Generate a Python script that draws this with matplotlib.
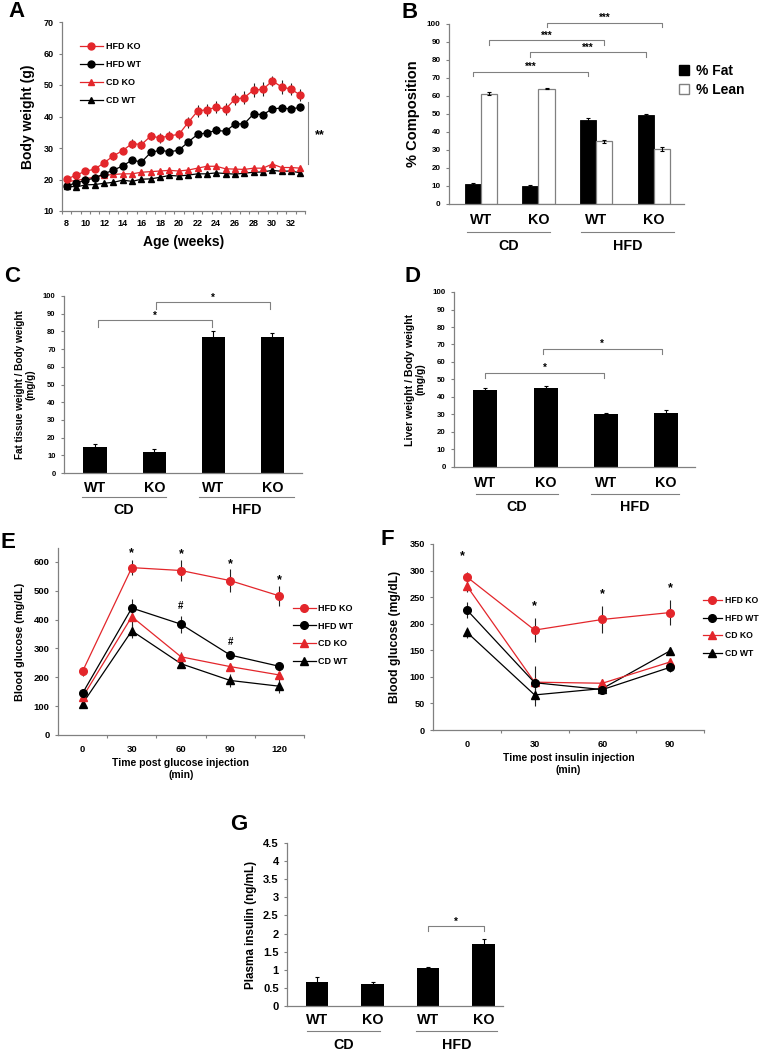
import numpy as np
import matplotlib
matplotlib.use('Agg')
import matplotlib.pyplot as plt
from matplotlib.patches import Patch
from matplotlib.lines import Line2D
from matplotlib.transforms import blended_transform_factory

plt.rcParams['font.family'] = ['Liberation Sans', 'DejaVu Sans']
plt.rcParams['font.weight'] = 'bold'
plt.rcParams['axes.labelweight'] = 'bold'

RED = '#e3262b'
GRAY = '#808080'

# ---- data ----
weeks = np.arange(8, 34)
a_hfd_ko = [20.1, 21.4, 22.6, 23.3, 25.3, 27.5, 29.2, 31.4, 31.1, 33.8, 33.2, 33.9, 34.3,
            38.1, 41.7, 42.2, 42.9, 42.4, 45.5, 46.0, 48.4, 48.6, 51.3, 49.4, 48.7, 46.8]
a_hfd_wt = [18.0, 18.9, 19.7, 20.5, 21.8, 23.0, 24.3, 26.2, 25.5, 28.6, 29.3, 28.8, 29.3,
            31.9, 34.3, 34.8, 35.6, 35.3, 37.6, 37.7, 40.8, 40.6, 42.4, 42.7, 42.4, 42.9]
a_cd_ko = [19.3, 19.7, 20.2, 20.8, 21.3, 21.6, 21.8, 21.8, 22.3, 22.5, 22.7, 22.9, 22.7,
           23.0, 23.6, 24.2, 24.2, 23.4, 23.3, 23.2, 23.6, 23.6, 24.9, 23.8, 23.8, 23.6]
a_cd_wt = [18.0, 17.6, 18.3, 18.4, 18.8, 19.1, 19.8, 19.4, 20.1, 20.2, 20.7, 21.3, 21.1,
           21.4, 21.8, 21.8, 22.1, 21.9, 21.7, 22.0, 22.3, 22.4, 22.9, 22.6, 22.7, 22.1]
a_hfd_ko_err = [0.8, 0.9, 1.0, 1.0, 1.1, 1.2, 1.2, 1.3, 1.3, 1.4, 1.5, 1.5, 1.5,
                1.6, 1.8, 1.9, 1.9, 2.0, 2.0, 2.1, 2.2, 2.2, 1.7, 2.2, 2.0, 1.9]
a_hfd_wt_err = [0.6, 0.6, 0.7, 0.7, 0.8, 0.9, 0.9, 1.0, 1.0, 1.0, 1.1, 1.1, 1.1,
                1.1, 1.2, 1.2, 1.3, 1.3, 1.2, 1.2, 1.2, 1.2, 1.1, 1.2, 1.1, 1.1]
a_cd_err = [0.6] * 26

groups = ['WT', 'KO', 'WT', 'KO']
diets = ['CD', 'HFD']

b_fat = [11.0, 10.0, 46.5, 49.2]
b_fat_err = [0.7, 0.5, 1.3, 0.9]
b_lean = [61.3, 64.0, 34.8, 30.6]
b_lean_err = [0.7, 0.3, 0.9, 1.0]

c_fat_ratio = [14.5, 12.0, 77.0, 77.0]
c_fat_ratio_err = [2.0, 1.3, 3.0, 2.0]

d_liver_ratio = [44.0, 45.0, 30.2, 30.8]
d_liver_ratio_err = [1.2, 1.5, 0.8, 1.5]

e_time = [0, 30, 60, 90, 120]
e_hfd_ko = [221, 580, 570, 535, 482]
e_hfd_ko_err = [15, 25, 35, 40, 35]
e_hfd_wt = [145, 440, 384, 277, 238]
e_hfd_wt_err = [10, 30, 30, 10, 8]
e_cd_ko = [131, 410, 271, 237, 208]
e_cd_ko_err = [8, 40, 18, 12, 10]
e_cd_wt = [109, 361, 247, 189, 169]
e_cd_wt_err = [8, 25, 10, 22, 25]

f_time = [0, 30, 60, 90]
f_hfd_ko = [288, 188, 208, 221]
f_hfd_ko_err = [10, 22, 25, 23]
f_hfd_wt = [226, 89, 76, 118]
f_hfd_wt_err = [15, 32, 8, 8]
f_cd_ko = [271, 90, 88, 128]
f_cd_ko_err = [12, 8, 8, 8]
f_cd_wt = [184, 66, 78, 149]
f_cd_wt_err = [10, 20, 5, 8]

g_insulin = [0.66, 0.60, 1.06, 1.70]
g_insulin_err = [0.13, 0.05, 0.02, 0.14]

series_names = ['HFD KO', 'HFD WT', 'CD KO', 'CD WT']

# ---- figure ----
W, H = 767, 1050
fig = plt.figure(figsize=(W / 100, H / 100), dpi=100)


def add_ax(l, t, r, b):
    ax = fig.add_axes([l / W, 1 - b / H, (r - l) / W, (b - t) / H])
    for s in ['top', 'right']:
        ax.spines[s].set_visible(False)
    for s in ['left', 'bottom']:
        ax.spines[s].set_color(GRAY)
        ax.spines[s].set_linewidth(0.9)
    ax.tick_params(color=GRAY, width=0.8, length=2.5)
    return ax


def letter(txt, x, y):
    fig.text(x / W, 1 - y / H, txt, fontsize=16, fontweight='bold', ha='left', va='baseline')


def under_labels(ax, box, lab_y, line_y, diet_y, spans, fs=10.3):
    l, t, r, b = box
    tr = blended_transform_factory(ax.transData, ax.transAxes)
    f = lambda y: (b - y) / (b - t)
    for i, s in enumerate(groups):
        ax.text(i, f(lab_y), s, transform=tr, ha='center', va='center', fontsize=fs)
    for (x0, x1), d in zip(spans, diets):
        ax.plot([x0, x1], [f(line_y)] * 2, transform=tr, color=GRAY, lw=0.8, clip_on=False)
        ax.text((x0 + x1) / 2, f(diet_y), d, transform=tr, ha='center', va='center', fontsize=fs)


def bracket(ax, x0, x1, y, drop, label, off, fs=7):
    ax.plot([x0, x0, x1, x1], [y - drop, y, y, y - drop], color=GRAY, lw=0.8, clip_on=False)
    ax.text((x0 + x1) / 2, y + off, label, ha='center', va='center', fontsize=fs, clip_on=False)


def lines(ax, x, data, ms, lw=0.9):
    # data: list of (y, err, color, marker) in legend order
    hs = []
    for (y, e, c, m), name in reversed(list(zip(data, series_names))):
        ax.errorbar(x, y, yerr=e, color=c, ecolor='#222222', elinewidth=0.8, capsize=0,
                    marker=m, ms=ms, lw=lw, zorder=3)
    for (y, e, c, m), name in zip(data, series_names):
        hs.append(Line2D([], [], color=c, marker=m, ms=ms, lw=lw, label=name))
    return hs


# ---- A ----
axA = add_ax(62, 22, 305, 211)
hA = lines(axA, weeks, [(a_hfd_ko, a_hfd_ko_err, RED, 'o'), (a_hfd_wt, a_hfd_wt_err, 'black', 'o'),
                        (a_cd_ko, a_cd_err, RED, '^'), (a_cd_wt, a_cd_err, 'black', '^')], ms=5)
axA.set_xlim(7.5, 33.5)
axA.set_ylim(10, 70)
axA.set_yticks(range(10, 71, 10))
axA.set_xticks(range(8, 33, 2))
axA.set_xticks(np.arange(7.5, 34, 1), minor=True)
axA.tick_params(axis='x', which='major', length=0, pad=6)
axA.tick_params(axis='x', which='minor', length=2.5, color=GRAY, width=0.8)
axA.tick_params(labelsize=6.5)
axA.set_ylabel('Body weight (g)', fontsize=10, labelpad=6)
axA.set_xlabel('Age (weeks)', fontsize=10, labelpad=5)
axA.plot([33.8, 33.8], [24.8, 44.7], color=GRAY, lw=0.8, clip_on=False)
axA.text(35.1, 34, '**', fontsize=9, ha='center', va='center', clip_on=False)
fig.legend(handles=hA, loc='upper left', bbox_to_anchor=(80 / W, 1 - 42 / H), frameon=False,
           fontsize=6.5, handlelength=2.5, handletextpad=0.4, labelspacing=1.0,
           borderpad=0, borderaxespad=0)
letter('A', 8, 17)

# ---- B ----
xB = np.arange(4)
boxB = (449, 24, 684, 204)
axB = add_ax(*boxB)
bw = 0.28
axB.bar(xB - bw / 2, b_fat, bw, color='black', edgecolor='black', lw=0.6,
        yerr=b_fat_err, error_kw=dict(elinewidth=0.8, capsize=1.5, capthick=0.8))
axB.bar(xB + bw / 2, b_lean, bw, color='white', edgecolor=GRAY, lw=0.9,
        yerr=b_lean_err, error_kw=dict(elinewidth=0.8, capsize=1.5, capthick=0.8))
axB.set_xlim(-0.55, 3.52)
axB.set_ylim(0, 100)
axB.set_yticks(range(0, 101, 10))
axB.set_xticks([])
axB.tick_params(labelsize=5.8)
axB.set_ylabel('% Composition', fontsize=10.5, labelpad=5)
under_labels(axB, boxB, 220, 232, 246, [(-0.24, 1.2), (1.74, 3.34)])
bracket(axB, -0.14, 1.86, 73.6, 2.6, '***', 2.6)
bracket(axB, 0.14, 2.14, 91.0, 2.6, '***', 2.6)
bracket(axB, 0.86, 2.86, 84.4, 2.6, '***', 2.6)
bracket(axB, 1.14, 3.14, 100.7, 2.6, '***', 2.6)
fig.legend(handles=[Patch(facecolor='black', edgecolor='black', label='% Fat'),
                    Patch(facecolor='white', edgecolor=GRAY, label='% Lean')],
           loc='upper left', bbox_to_anchor=(679 / W, 1 - 64 / H), frameon=False,
           fontsize=10, handlelength=0.7, handleheight=0.7, handletextpad=0.5,
           labelspacing=0.35, borderpad=0, borderaxespad=0)
letter('B', 402, 18)

# ---- C ----
boxC = (64, 296, 302, 473)
axC = add_ax(*boxC)
axC.bar(xB, c_fat_ratio, 0.4, color='black', yerr=c_fat_ratio_err,
        error_kw=dict(elinewidth=0.8, capsize=1.5, capthick=0.8))
axC.set_xlim(-0.53, 3.5)
axC.set_ylim(0, 100)
axC.set_yticks(range(0, 101, 10))
axC.set_xticks([])
axC.tick_params(labelsize=5.5)
axC.set_ylabel('Fat tissue weight / Body weight\n(mg/g)', fontsize=7.2, labelpad=5, linespacing=1.1)
under_labels(axC, boxC, 488, 497, 510, [(-0.22, 1.19), (1.76, 3.37)])
bracket(axC, 0.05, 1.98, 86.2, 3.5, '*', 2.8)
bracket(axC, 1.02, 2.95, 96.4, 3.5, '*', 2.8)
letter('C', 4, 282)

# ---- D ----
boxD = (454, 292, 695, 467)
axD = add_ax(*boxD)
axD.bar(xB, d_liver_ratio, 0.4, color='black', yerr=d_liver_ratio_err,
        error_kw=dict(elinewidth=0.8, capsize=1.5, capthick=0.8))
axD.set_xlim(-0.52, 3.48)
axD.set_ylim(0, 100)
axD.set_yticks(range(0, 101, 10))
axD.set_xticks([])
axD.tick_params(labelsize=5.7)
axD.set_ylabel('Liver weight / Body weight\n(mg/g)', fontsize=7.6, labelpad=5, linespacing=1.1)
under_labels(axD, boxD, 483, 494, 507, [(-0.15, 1.2), (1.75, 3.22)])
bracket(axD, 0.0, 1.97, 53.9, 3.0, '*', 2.8)
bracket(axD, 0.95, 2.93, 67.4, 3.0, '*', 2.8)
letter('D', 405, 282)

# ---- E ----
axE = add_ax(58, 548, 304, 735)
hE = lines(axE, e_time, [(e_hfd_ko, e_hfd_ko_err, RED, 'o'), (e_hfd_wt, e_hfd_wt_err, 'black', 'o'),
                         (e_cd_ko, e_cd_ko_err, RED, '^'), (e_cd_wt, e_cd_wt_err, 'black', '^')], ms=5.5)
axE.set_xlim(-15, 135)
axE.set_ylim(0, 648)
axE.set_yticks(range(0, 601, 100))
axE.set_xticks(e_time)
axE.set_xticks([15, 45, 75, 105, 135], minor=True)
axE.tick_params(axis='x', which='major', length=0, pad=7)
axE.tick_params(axis='x', which='minor', length=2.5, color=GRAY, width=0.8)
axE.tick_params(labelsize=6.8)
axE.set_ylabel('Blood glucose (mg/dL)', fontsize=7.8, labelpad=6)
axE.set_xlabel('Time post glucose injection\n(min)', fontsize=7.5, labelpad=3, linespacing=1.3)
for x, y in zip([30, 60, 90, 120], [629, 627, 592, 536]):
    axE.text(x, y, '*', fontsize=9, ha='center', va='center')
for x, y in zip([60, 90], [446, 322]):
    axE.text(x, y, '#', fontsize=7, ha='center', va='center')
fig.legend(handles=hE, loc='upper left', bbox_to_anchor=(293 / W, 1 - 604 / H), frameon=False,
           fontsize=6.5, handlelength=2.5, handletextpad=0.3, labelspacing=0.95,
           borderpad=0, borderaxespad=0)
letter('E', 0, 548)

# ---- F ----
axF = add_ax(433, 544, 704, 730)
hF = lines(axF, f_time, [(f_hfd_ko, f_hfd_ko_err, RED, 'o'), (f_hfd_wt, f_hfd_wt_err, 'black', 'o'),
                         (f_cd_ko, f_cd_ko_err, RED, '^'), (f_cd_wt, f_cd_wt_err, 'black', '^')], ms=5.5)
axF.set_xlim(-15, 105)
axF.set_ylim(0, 350)
axF.set_yticks(range(0, 351, 50))
axF.set_xticks(f_time)
axF.set_xticks([15, 45, 75, 105], minor=True)
axF.tick_params(axis='x', which='major', length=0, pad=7)
axF.tick_params(axis='x', which='minor', length=2.5, color=GRAY, width=0.8)
axF.tick_params(labelsize=6.6)
axF.set_ylabel('Blood glucose (mg/dL)', fontsize=8.7, labelpad=6)
axF.set_xlabel('Time post insulin injection\n(min)', fontsize=7.5, labelpad=3, linespacing=1.3)
for x, y in zip([-2, 30, 60, 90], [328, 233, 256, 266]):
    axF.text(x, y, '*', fontsize=9, ha='center', va='center')
fig.legend(handles=hF, loc='upper left', bbox_to_anchor=(703 / W, 1 - 596 / H), frameon=False,
           fontsize=6.2, handlelength=2.2, handletextpad=0.3, labelspacing=1.0,
           borderpad=0, borderaxespad=0)
letter('F', 380, 545)

# ---- G ----
boxG = (287, 843, 503, 1006)
axG = add_ax(*boxG)
axG.bar(xB, g_insulin, 0.4, color='black', yerr=g_insulin_err,
        error_kw=dict(elinewidth=0.8, capsize=1.5, capthick=0.8))
axG.set_xlim(-0.54, 3.35)
axG.set_ylim(0, 4.5)
axG.set_yticks(np.arange(0, 4.51, 0.5))
axG.set_yticklabels(['0', '0.5', '1', '1.5', '2', '2.5', '3', '3.5', '4', '4.5'])
axG.set_xticks([])
axG.tick_params(labelsize=8)
axG.set_ylabel('Plasma insulin (ng/mL)', fontsize=8.4, labelpad=4)
under_labels(axG, boxG, 1020, 1031, 1045, [(-0.18, 1.14), (1.78, 3.24)])
bracket(axG, 2.0, 3.0, 2.2, 0.12, '*', 0.13)
letter('G', 230, 830)

fig.savefig('out.png', dpi=100)
